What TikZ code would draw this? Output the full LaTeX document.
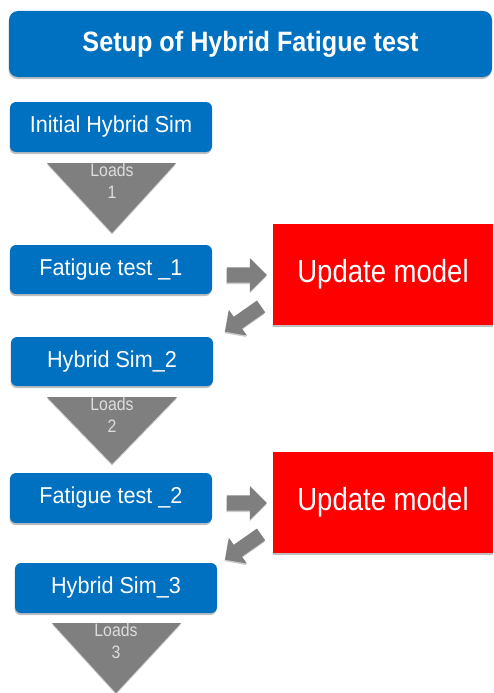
\documentclass[tikz,border=0pt]{standalone}
\usepackage{fontspec}
\setmainfont{Liberation Sans}
\newfontfamily\boxfont{Liberation Sans}[FakeStretch=0.94]
\newfontfamily\titlefont{Liberation Sans}[FakeStretch=0.9]
\newfontfamily\redfont{Liberation Sans}[FakeStretch=0.86]
\newfontfamily\loadfont{Liberation Sans}[FakeStretch=0.88]
\usetikzlibrary{shapes.arrows,shadows}
\definecolor{pptblue}{HTML}{0070C0}
\definecolor{pptgray}{HTML}{7F7F7F}
\definecolor{pptred}{HTML}{FF0000}
\definecolor{loadtxt}{HTML}{DDDDDD}
\tikzset{
  softshadow/.style={drop shadow={shadow xshift=-0.5pt,shadow yshift=-2pt,opacity=0.25,fill=black}},
  bluebox/.style={rectangle, rounded corners=6pt, fill=pptblue, text=white,
    minimum width=202pt, minimum height=50pt, inner sep=0pt, outer sep=0pt,
    font=\boxfont\fontsize{23}{26}\selectfont, softshadow},
  titlebox/.style={bluebox, rounded corners=9pt, minimum width=483pt, minimum height=66pt,
    font=\titlefont\bfseries\fontsize{28}{32}\selectfont},
  redbox/.style={rectangle, fill=pptred, text=white, minimum width=220pt, minimum height=101pt,
    inner sep=0pt, outer sep=0pt, font=\redfont\fontsize{32}{36}\selectfont, softshadow},
  blockarrow/.style={single arrow, fill=pptgray, minimum height=40pt, minimum width=33pt,
    single arrow head extend=9pt, inner xsep=0pt, inner ysep=7.5pt, outer sep=0pt,
    drop shadow={shadow xshift=-0.5pt,shadow yshift=-1.5pt,opacity=0.2,fill=black}},
  diagarrow/.style={blockarrow, minimum height=44pt, minimum width=31pt,
    single arrow head extend=8.5pt, inner ysep=7pt, rotate=215},
  tri/.style={fill=pptgray, drop shadow={shadow xshift=0pt,shadow yshift=-1.5pt,opacity=0.2,fill=black}},
  loadlabel/.style={text=loadtxt, align=center, inner sep=0pt,
    font=\loadfont\fontsize{18}{22}\selectfont}
}
\begin{document}
\begin{tikzpicture}[x=1pt,y=-1pt]
\useasboundingbox (0,0) rectangle (493,693);

\node[titlebox] (title) at (250.5,44) {Setup of Hybrid Fatigue test};

\node[bluebox] (b1) at (111,127) {Initial Hybrid Sim};
\node[bluebox, minimum height=49pt] (b2) at (111,269.5) {Fatigue test \_1};
\node[bluebox, minimum height=49pt] (b3) at (112,361.5) {Hybrid Sim\_2};
\node[bluebox] (b4) at (111,498) {Fatigue test \_2};
\node[bluebox] (b5) at (116,588) {Hybrid Sim\_3};

\node[redbox] (r1) at (383,274.5) {Update model};
\node[redbox] (r2) at (383,502.5) {Update model};

% load triangles
\fill[tri] (47,163) -- (176,163) -- (112,233) -- cycle;
\node[loadlabel] (l1) at (112,181) {Loads\\1};
\fill[tri] (47,397) -- (177,397) -- (112,464) -- cycle;
\node[loadlabel] (l2) at (112,415) {Loads\\2};
\fill[tri] (52,623) -- (181,623) -- (116,693) -- cycle;
\node[loadlabel] (l3) at (116,641) {Loads\\3};

% block arrows
\node[blockarrow] (a1) at (243,275) {};
\node[diagarrow] (d1) at (246,317) {};
\node[blockarrow] (a2) at (243,503) {};
\node[diagarrow] (d2) at (246,545) {};
\end{tikzpicture}
\end{document}
